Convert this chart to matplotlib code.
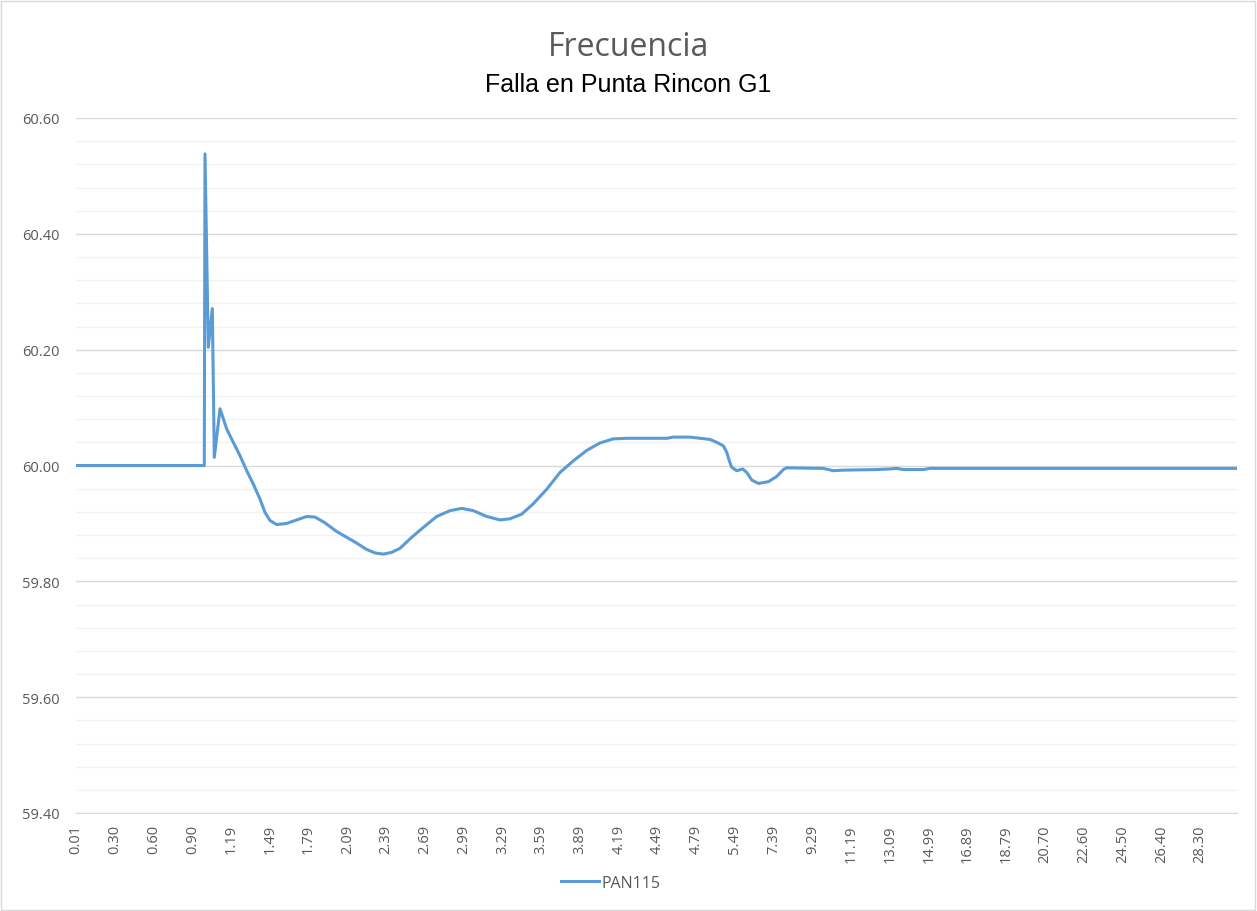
import matplotlib
matplotlib.use("Agg")
import matplotlib.pyplot as plt
import numpy as np

# category labels shown on the x axis (one every N samples in the original sheet)
tick_labels = ["0.01", "0.30", "0.60", "0.90", "1.19", "1.49", "1.79", "2.09", "2.39", "2.69",
               "2.99", "3.29", "3.59", "3.89", "4.19", "4.49", "4.79", "5.49", "7.39", "9.29",
               "11.19", "13.09", "14.99", "16.89", "18.79", "20.70", "22.60", "24.50", "26.40", "28.30"]

# curve position along the category axis (in tick-label units) and frequency (Hz)
pos = [0.0, 3.310, 3.328, 3.413, 3.517, 3.568, 3.715, 3.888, 4.058, 4.231, 4.404, 4.574,
       4.747, 4.876, 5.005, 5.178, 5.436, 5.694, 5.952, 6.166, 6.424, 6.726, 6.984, 7.242,
       7.500, 7.714, 7.928, 8.145, 8.359, 8.661, 8.960, 9.306, 9.649, 9.951, 10.250, 10.596,
       10.939, 11.197, 11.499, 11.798, 12.144, 12.487, 12.830, 13.176, 13.519, 13.862, 14.208,
       14.551, 15.248, 15.403, 15.841, 16.099, 16.357, 16.530, 16.700, 16.788, 16.855, 16.917,
       17.046, 17.201, 17.304, 17.433, 17.603, 17.861, 18.078, 18.248, 18.336, 19.280, 19.538,
       19.796, 20.658, 21.001, 21.174, 21.344, 21.860, 22.033, 23.581, 29.953]
freq = [60.000, 60.000, 60.538, 60.204, 60.271, 60.014, 60.098, 60.063, 60.040, 60.017, 59.991,
        59.968, 59.942, 59.919, 59.905, 59.898, 59.900, 59.906, 59.912, 59.911, 59.901, 59.886,
        59.876, 59.866, 59.855, 59.849, 59.847, 59.850, 59.857, 59.876, 59.893, 59.912, 59.922,
        59.926, 59.922, 59.912, 59.906, 59.908, 59.916, 59.934, 59.959, 59.988, 60.008, 60.026,
        60.039, 60.046, 60.047, 60.047, 60.047, 60.049, 60.049, 60.047, 60.045, 60.040, 60.034,
        60.023, 60.008, 59.997, 59.991, 59.994, 59.988, 59.975, 59.969, 59.972, 59.981, 59.993,
        59.996, 59.995, 59.991, 59.992, 59.993, 59.994, 59.995, 59.993, 59.993, 59.995, 59.995,
        59.995]

series_name = "PAN115"

W, H = 1257, 912
fig = plt.figure(figsize=(W / 100, H / 100), dpi=100)
fig.patch.set_facecolor("white")

# chart area border like Excel
fig.add_artist(plt.Rectangle((1 / W, 1 / H), 1 - 3 / W, 1 - 3 / H, transform=fig.transFigure,
                             fill=False, edgecolor="#d9d9d9", lw=1))

ax = fig.add_axes([76 / W, 1 - 814 / H, (1237 - 76) / W, (814 - 119) / H])
line, = ax.plot(pos, freq, color="#5b9bd5", lw=2.2, solid_joinstyle="round", label=series_name)

ax.set_ylim(59.40, 60.60)
ax.set_xlim(0, 29.953)
ax.set_yticks(np.arange(59.40, 60.61, 0.20))
ax.set_yticks(np.arange(59.40, 60.61, 0.04), minor=True)
ax.set_yticklabels(["%.2f" % v for v in np.arange(59.40, 60.61, 0.20)])
ax.set_xticks(range(len(tick_labels)))
ax.set_xticklabels(tick_labels, rotation=90)

ax.grid(axis="y", which="major", color="#d9d9d9", lw=1)
ax.grid(axis="y", which="minor", color="#f2f2f2", lw=1)
ax.set_axisbelow(True)
for s in ["top", "right", "left"]:
    ax.spines[s].set_visible(False)
ax.spines["bottom"].set_color("#d9d9d9")
ax.tick_params(axis="both", which="both", length=0, colors="#595959", labelsize=10.5)
ax.tick_params(axis="y", pad=12)
ax.tick_params(axis="x", pad=8)
for t in ax.get_xticklabels() + ax.get_yticklabels():
    t.set_fontfamily("Open Sans")

fig.text(0.5, 1 - 47 / H, "Frecuencia", ha="center", va="center", fontsize=23,
         color="#595959", family="Open Sans")
fig.text(0.5, 1 - 85 / H, "Falla en Punta Rincon G1", ha="center", va="center", fontsize=18,
         color="black", family="Liberation Sans")

fig.legend(handles=[line], loc="center", bbox_to_anchor=(611 / W, 1 - 884 / H), frameon=False,
           prop={"family": "Open Sans", "size": 11.5}, labelcolor="#595959",
           handlelength=2.4, handletextpad=0.15)

fig.savefig("out.png", dpi=100)
